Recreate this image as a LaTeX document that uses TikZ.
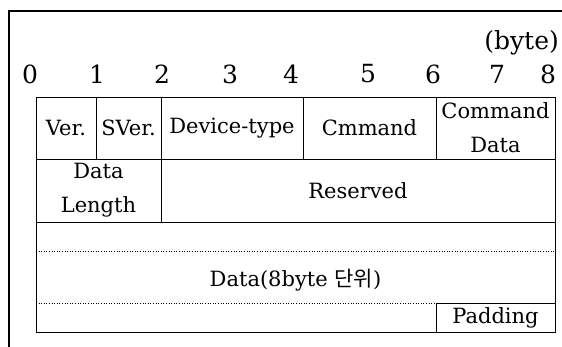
\documentclass[tikz,border=0pt]{standalone}
\usepackage{fontspec}
\setmainfont{DejaVu Serif}
\newfontfamily\krfont{Noto Sans CJK KR}
\usetikzlibrary{positioning}
\tikzset{
  cell/.style={draw, line width=0.9pt, inner sep=0pt, align=center,
    font=\fontsize{21}{34}\selectfont},
  bytenum/.style={inner sep=0pt, font=\fontsize{25}{28}\selectfont}
}

\begin{document}
\begin{tikzpicture}[x=1pt,y=-1pt]
    \useasboundingbox (0,0) rectangle (562,347);
    % frame
    \draw[line width=2.4pt] (562,11) -- (9,11) -- (9,347);

    % byte scale
    \node[bytenum, anchor=east] (unit) at (559,43) {(byte)};
    \foreach \x/\n in {30/0, 97/1, 162/2, 230/3, 291/4, 368/5, 433/6, 497/7, 548/8}
      \node[bytenum] (b\n) at (\x,74) {\n};

    % first row
    \node[cell, minimum width=60pt, minimum height=62pt] (ver) at (66,128) {Ver.};
    \node[cell, minimum width=65pt, minimum height=62pt] (sver) at (128.5,128) {SVer.};
    \node[cell, minimum width=142pt, minimum height=62pt] (dev) at (232,128) {Device-type};
    \node[cell, minimum width=133pt, minimum height=62pt] (cmd) at (369.5,128) {Cmmand};
    \node[cell, minimum width=119pt, minimum height=62pt] (cmddata) at (495.5,128) {Command\\Data};

    % second row
    \node[cell, minimum width=125pt, minimum height=63pt] (len) at (98.5,190.5) {Data\\Length};
    \node[cell, minimum width=394pt, minimum height=63pt] (res) at (358,190.5) {Reserved};

    % data block
    \node[cell, minimum width=519pt, minimum height=110pt] (data) at (295.5,277) {};
    \node[font=\fontsize{21}{34}\selectfont, inner sep=0pt] (datatxt) at (295.5,280) {Data(8byte {\krfont 단위})};
    \coordinate (dl1) at (36,251);
    \coordinate (dr1) at (555,251);
    \coordinate (dl2) at (36,303);
    \coordinate (dr2) at (555,303);
    \draw[dotted, line width=0.6pt] (dl1) -- (dr1);
    \draw[dotted, line width=0.6pt] (dl2) -- (dr2);
    \node[cell, minimum width=119pt, minimum height=29pt] (pad) at (495.5,317.5) {Padding};
\end{tikzpicture}
\end{document}
